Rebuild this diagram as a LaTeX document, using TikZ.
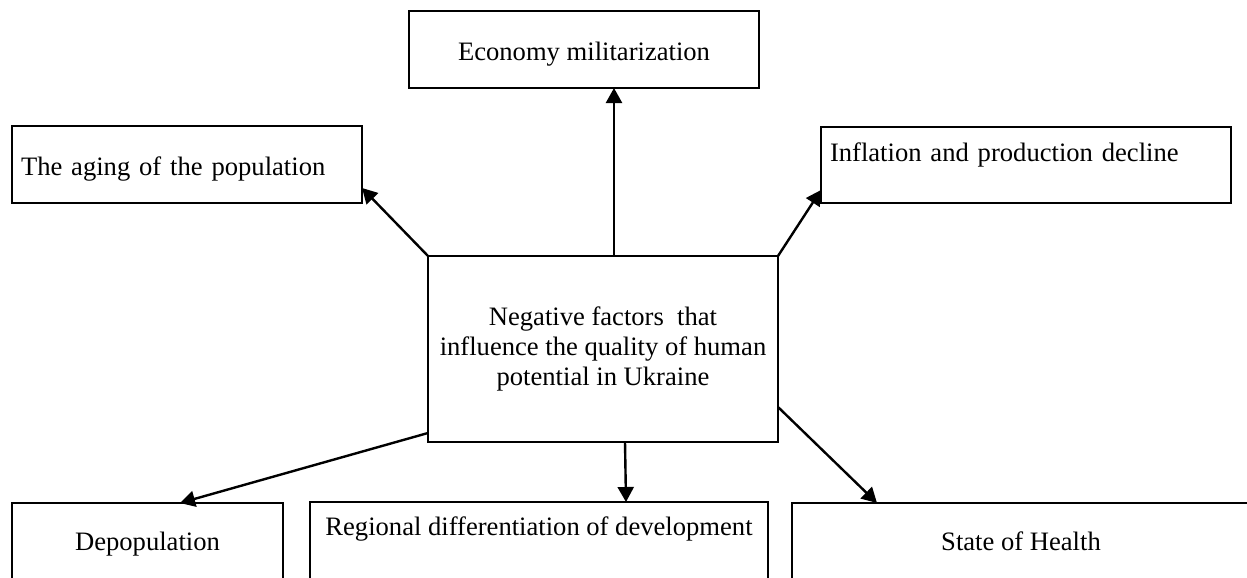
\documentclass[tikz,border=0pt]{standalone}
\usepackage{fontspec}
\setmainfont{Liberation Serif}
\usetikzlibrary{arrows.meta,calc}
\begin{document}
\begin{tikzpicture}[x=0.5pt,y=-0.5pt,
  box/.style={draw=black,line width=0.9pt,rectangle,inner ysep=0pt,inner xsep=0pt,outer sep=0pt,
    font=\fontsize{13.3pt}{15pt}\selectfont},
  arr/.style={line width=1.2pt,-{Triangle[length=7.5pt,width=8pt]}}]
\useasboundingbox (0,0) rectangle (1247,578);
\clip (0,0) rectangle (1247,578);
% boxes
\node[box,minimum width=175pt,minimum height=38.5pt,text height=10.5pt,text depth=0pt] (econ) at (584,49.5) {Economy militarization};
\node[box,minimum width=175pt,minimum height=38.5pt,inner xsep=4.5pt,text width=166pt,align=left,text height=10.5pt,text depth=0pt] (aging) at (187,164.5) {The aging of the population};
\node[box,minimum width=205pt,minimum height=38pt,inner xsep=4.5pt,text width=196pt,align=left,text height=0pt,text depth=4pt] (infl) at (1026,165) {Inflation and production decline};
\node[box,minimum width=175pt,minimum height=93pt,align=center] (cent) at (603,349) {Negative factors\ \ that\\influence the quality of human\\potential in Ukraine};
\node[box,minimum width=135.5pt,minimum height=39pt,text height=8pt,text depth=0pt] (depop) at (147.5,542) {Depopulation};
\node[box,minimum width=229pt,minimum height=39pt,text height=0pt,text depth=6pt] (reg) at (539,541) {Regional differentiation of development};
\node[box,minimum width=229pt,minimum height=39pt,text height=8pt,text depth=0pt] (health) at (1021,542) {State of Health};
% arrows
\coordinate (topst) at ($(cent.north)+(11,0)$);
\draw[arr] (topst) -- (topst |- econ.south);
\draw[arr] (cent.north west) -- ($(aging.south east)+(0,-15)$);
\draw[arr] (cent.north east) -- ($(infl.south west)+(0,-13)$);
\draw[arr] ($(cent.south west)+(0,-9)$) -- ($(depop.north)+(32.5,0)$);
\draw[arr] ($(cent.south)+(22,0)$) -- ($(reg.north)+(87,0)$);
\draw[arr] ($(cent.south east)+(0,-35)$) -- ($(health.north west)+(85,0)$);
\end{tikzpicture}
\end{document}
